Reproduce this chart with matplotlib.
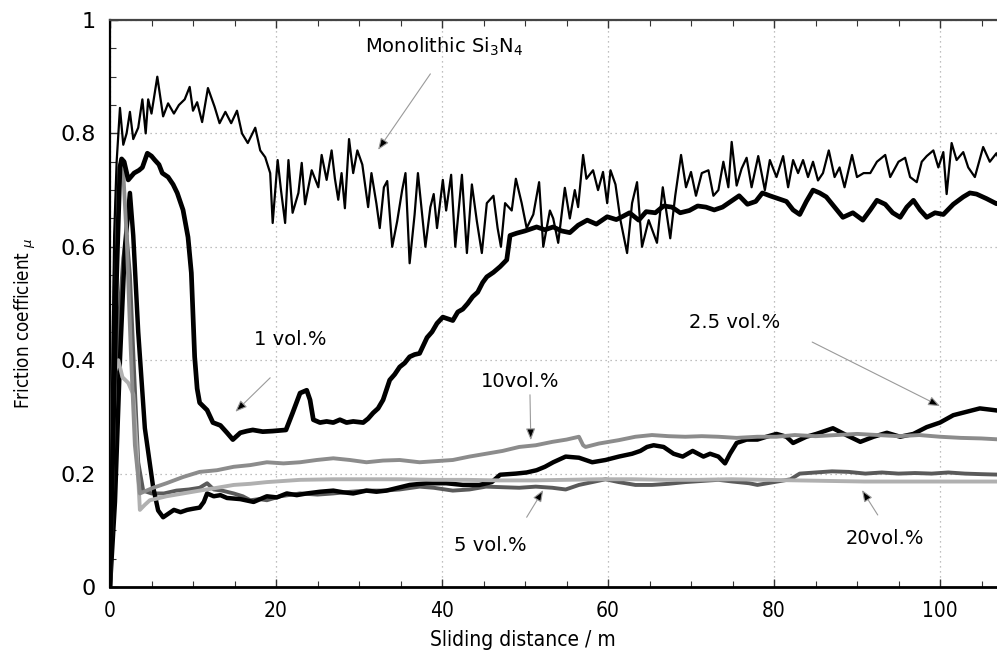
import numpy as np
import matplotlib
matplotlib.use('Agg')
import matplotlib.pyplot as plt
from matplotlib.ticker import MultipleLocator
from matplotlib import font_manager

# Monolithic Si3N4 (thin, noisy)
x_mono = [0.0, 0.2, 0.5, 0.8, 1.2, 1.6, 2.0, 2.4, 2.8, 3.4, 3.9, 4.3, 4.6, 5.0, 5.7, 6.4, 7.0, 7.7, 8.3,
          9.0, 9.6, 10.0, 10.5, 11.1, 11.8, 12.6, 13.2, 13.9, 14.6, 15.3, 15.9, 16.6, 17.5, 18.1, 18.7,
          19.3, 19.6, 20.2, 20.6, 21.1, 21.5, 22.0, 22.7, 23.1, 23.5, 24.3, 25.1, 25.5, 26.1, 26.7, 27.1,
          27.5, 27.9, 28.3, 28.8, 29.3, 29.8, 30.4, 31.1, 31.5, 32.1, 32.5, 33.0, 33.4, 34.0, 34.6, 35.2,
          35.6, 36.1, 36.7, 37.1, 38.0, 38.6, 39.0, 39.4, 40.1, 40.5, 41.1, 41.6, 42.4, 43.0, 43.6, 44.2,
          44.8, 45.4, 46.2, 46.7, 47.1, 47.6, 48.4, 48.9, 49.6, 50.2, 51.0, 51.7, 52.2, 53.0, 53.4, 54.0,
          54.8, 55.4, 56.0, 56.4, 57.0, 57.4, 58.2, 58.8, 59.4, 59.9, 60.3, 60.9, 61.5, 62.3, 62.9, 63.5,
          64.1, 64.9, 65.9, 66.6, 67.5, 68.1, 68.8, 69.4, 70.0, 70.6, 71.3, 72.1, 72.7, 73.3, 73.9, 74.5,
          74.9, 75.5, 76.1, 76.7, 77.3, 78.1, 78.9, 79.5, 80.3, 81.1, 81.7, 82.3, 82.9, 83.5, 84.1, 84.7,
          85.3, 85.9, 86.6, 87.3, 87.9, 88.5, 89.4, 90.0, 90.8, 91.6, 92.4, 93.4, 94.0, 95.0, 95.8, 96.4,
          97.2, 97.8, 98.4, 99.2, 99.8, 100.4, 100.8, 101.4, 102.0, 102.8, 103.4, 104.2, 105.2, 106.0,
          106.8, 107.5]
y_mono = [0.0, 0.30, 0.62, 0.75, 0.845, 0.78, 0.80, 0.838, 0.79, 0.81, 0.86, 0.80, 0.86, 0.835, 0.90, 0.83,
          0.853, 0.835, 0.85, 0.86, 0.882, 0.84, 0.855, 0.82, 0.88, 0.847, 0.818, 0.838, 0.818, 0.84,
          0.80, 0.783, 0.81, 0.77, 0.758, 0.73, 0.642, 0.753, 0.70, 0.642, 0.753, 0.66, 0.695, 0.748,
          0.675, 0.735, 0.705, 0.762, 0.718, 0.77, 0.72, 0.683, 0.73, 0.668, 0.79, 0.73, 0.77, 0.745,
          0.67, 0.73, 0.676, 0.633, 0.705, 0.716, 0.60, 0.645, 0.70, 0.73, 0.571, 0.657, 0.73, 0.60,
          0.67, 0.693, 0.633, 0.718, 0.664, 0.727, 0.60, 0.727, 0.589, 0.71, 0.645, 0.589, 0.677, 0.69,
          0.633, 0.60, 0.677, 0.664, 0.72, 0.677, 0.633, 0.657, 0.714, 0.60, 0.664, 0.65, 0.607, 0.704,
          0.65, 0.70, 0.67, 0.762, 0.72, 0.735, 0.70, 0.732, 0.677, 0.735, 0.71, 0.647, 0.589, 0.677,
          0.714, 0.60, 0.647, 0.607, 0.705, 0.615, 0.69, 0.762, 0.705, 0.732, 0.69, 0.73, 0.735, 0.69,
          0.70, 0.75, 0.705, 0.785, 0.708, 0.738, 0.757, 0.705, 0.76, 0.70, 0.753, 0.723, 0.76, 0.705,
          0.753, 0.73, 0.753, 0.723, 0.75, 0.717, 0.73, 0.77, 0.723, 0.74, 0.705, 0.762, 0.723, 0.73,
          0.73, 0.75, 0.762, 0.723, 0.75, 0.757, 0.723, 0.714, 0.75, 0.76, 0.77, 0.74, 0.767, 0.693,
          0.783, 0.753, 0.767, 0.74, 0.723, 0.776, 0.75, 0.765, 0.74]

# 1 vol.%
x_1 = [0.0, 0.8, 1.2, 1.4, 1.7, 2.2, 2.9, 3.5, 3.9, 4.5, 5.0, 5.4, 5.9, 6.3, 7.0, 7.6, 8.1, 8.8, 9.4, 9.8,
       10.0, 10.2, 10.5, 10.8, 11.7, 12.4, 13.3, 14.1, 14.8, 15.7, 16.5, 17.2, 18.4, 19.6, 20.4, 21.2,
       22.0, 22.9, 23.7, 24.1, 24.5, 25.3, 26.1, 26.9, 27.7, 28.5, 29.3, 30.5, 31.1, 31.7, 32.3, 32.9,
       33.7, 34.3, 34.9, 35.5, 36.1, 36.7, 37.3, 38.2, 38.8, 39.4, 40.1, 41.3, 41.9, 42.5, 43.1, 43.7,
       44.3, 44.9, 45.4, 46.2, 47.0, 47.8, 48.2, 49.0, 50.0, 51.4, 52.4, 53.4, 54.4, 55.4, 56.4, 57.5,
       58.6, 59.9, 61.0, 61.7, 62.6, 63.7, 64.6, 65.7, 66.7, 67.7, 68.7, 69.8, 70.8, 71.8, 72.8, 73.8,
       74.8, 75.8, 76.8, 77.8, 78.6, 79.5, 80.5, 81.5, 82.3, 83.1, 83.9, 84.7, 85.5, 86.3, 87.3, 88.3,
       89.5, 90.7, 91.6, 92.4, 93.4, 94.3, 95.2, 96.0, 96.8, 97.6, 98.4, 99.4, 100.4, 101.6, 102.8,
       103.6, 104.4, 105.6, 106.8, 107.5]
y_1 = [0.0, 0.55, 0.74, 0.755, 0.75, 0.718, 0.73, 0.735, 0.74, 0.765, 0.76, 0.753, 0.745, 0.73, 0.723,
       0.71, 0.695, 0.665, 0.617, 0.554, 0.48, 0.406, 0.35, 0.325, 0.312, 0.29, 0.285, 0.272, 0.26,
       0.272, 0.275, 0.277, 0.274, 0.275, 0.276, 0.277, 0.307, 0.342, 0.347, 0.33, 0.295, 0.29, 0.292,
       0.29, 0.295, 0.29, 0.292, 0.29, 0.297, 0.307, 0.315, 0.33, 0.365, 0.375, 0.388, 0.395, 0.406,
       0.41, 0.412, 0.44, 0.45, 0.465, 0.476, 0.47, 0.485, 0.49, 0.50, 0.512, 0.52, 0.537, 0.547,
       0.555, 0.565, 0.577, 0.62, 0.624, 0.628, 0.635, 0.63, 0.635, 0.628, 0.625, 0.638, 0.647, 0.64,
       0.653, 0.648, 0.653, 0.66, 0.647, 0.662, 0.66, 0.672, 0.67, 0.66, 0.664, 0.672, 0.67, 0.665,
       0.67, 0.68, 0.69, 0.675, 0.68, 0.695, 0.69, 0.685, 0.68, 0.665, 0.657, 0.68, 0.70, 0.695, 0.688,
       0.67, 0.652, 0.66, 0.647, 0.665, 0.682, 0.675, 0.66, 0.652, 0.67, 0.682, 0.665, 0.652, 0.66,
       0.657, 0.675, 0.688, 0.695, 0.693, 0.685, 0.676, 0.68]

# 2.5 vol.%
x_25 = [0.0, 0.6, 1.2, 1.8, 2.4, 2.8, 3.4, 4.2, 5.2, 5.8, 6.4, 7.1, 7.7, 8.5, 9.3, 10.0, 10.8, 11.3, 11.7,
        12.5, 13.3, 14.1, 15.7, 17.3, 18.1, 18.9, 20.1, 21.3, 22.5, 23.7, 25.3, 26.9, 28.1, 29.3, 30.9,
        32.1, 33.3, 34.7, 36.1, 38.1, 40.5, 42.5, 44.5, 46.0, 47.0, 48.9, 50.2, 51.4, 52.4, 53.4, 54.9,
        56.5, 58.1, 59.7, 61.3, 62.9, 63.9, 64.7, 65.5, 66.7, 67.9, 69.0, 70.2, 71.5, 72.3, 73.3, 74.1,
        74.7, 75.5, 76.7, 78.0, 79.1, 80.3, 81.5, 82.3, 83.9, 85.1, 87.1, 88.7, 90.4, 92.0, 93.6, 95.2,
        96.8, 98.4, 100.0, 101.6, 103.2, 104.8, 106.5, 107.5]
y_25 = [0.0, 0.15, 0.40, 0.60, 0.695, 0.62, 0.45, 0.28, 0.176, 0.135, 0.123, 0.13, 0.136, 0.132, 0.136,
        0.138, 0.14, 0.15, 0.165, 0.16, 0.162, 0.157, 0.155, 0.15, 0.155, 0.16, 0.158, 0.165, 0.162,
        0.165, 0.168, 0.17, 0.167, 0.165, 0.17, 0.168, 0.17, 0.175, 0.18, 0.183, 0.183, 0.18, 0.18,
        0.185, 0.198, 0.2, 0.202, 0.206, 0.212, 0.22, 0.23, 0.228, 0.22, 0.224, 0.23, 0.235, 0.24,
        0.247, 0.25, 0.247, 0.235, 0.23, 0.24, 0.23, 0.235, 0.23, 0.218, 0.235, 0.254, 0.26, 0.26,
        0.265, 0.27, 0.265, 0.254, 0.265, 0.27, 0.28, 0.268, 0.256, 0.265, 0.272, 0.265, 0.27, 0.282,
        0.29, 0.303, 0.309, 0.315, 0.312, 0.31]

# 5 vol.%
x_5 = [0.0, 0.5, 1.0, 1.6, 2.0, 2.4, 2.9, 3.4, 4.0, 5.0, 6.5, 8.0, 9.5, 10.8, 11.7, 12.5, 13.5, 14.9, 16.0,
       16.9, 18.0, 18.9, 20.5, 22.9, 25.0, 26.9, 29.0, 30.9, 33.0, 34.9, 37.3, 39.0, 41.3, 43.3, 45.3,
       47.3, 49.3, 51.3, 53.3, 54.9, 56.5, 58.1, 59.7, 61.3, 63.3, 65.3, 67.3, 69.3, 71.3, 73.3, 75.0,
       77.0, 78.0, 80.0, 82.0, 83.1, 85.0, 87.0, 89.0, 91.0, 93.0, 95.0, 97.0, 99.0, 101.0, 103.0,
       105.0, 107.5]
y_5 = [0.0, 0.25, 0.45, 0.58, 0.62, 0.55, 0.38, 0.22, 0.17, 0.165, 0.165, 0.17, 0.172, 0.175, 0.183,
       0.172, 0.17, 0.165, 0.16, 0.153, 0.155, 0.153, 0.16, 0.165, 0.163, 0.165, 0.168, 0.17, 0.17,
       0.172, 0.177, 0.175, 0.17, 0.172, 0.177, 0.176, 0.175, 0.177, 0.175, 0.172, 0.18, 0.185, 0.19,
       0.185, 0.18, 0.18, 0.182, 0.185, 0.187, 0.189, 0.186, 0.183, 0.18, 0.185, 0.19, 0.2, 0.202,
       0.204, 0.203, 0.2, 0.202, 0.2, 0.201, 0.2, 0.202, 0.2, 0.199, 0.198]

# 10 vol.%
x_10 = [0.0, 0.4, 0.8, 1.2, 1.6, 2.0, 2.5, 3.0, 3.6, 4.4, 5.2, 6.8, 8.8, 10.8, 12.9, 14.9, 16.9, 18.9,
        20.9, 22.9, 24.9, 26.9, 28.9, 30.9, 32.9, 34.9, 37.3, 39.3, 41.3, 43.3, 45.3, 47.3, 49.3, 51.3,
        53.3, 55.0, 56.5, 57.0, 57.3, 58.9, 61.3, 63.3, 65.3, 67.3, 69.3, 71.3, 73.3, 75.5, 78.0, 80.3,
        82.5, 85.0, 87.5, 90.0, 92.5, 95.0, 97.5, 100.0, 102.5, 105.0, 107.5]
y_10 = [0.0, 0.45, 0.68, 0.745, 0.73, 0.62, 0.42, 0.25, 0.165, 0.17, 0.175, 0.183, 0.194, 0.203, 0.206,
        0.212, 0.215, 0.22, 0.218, 0.22, 0.224, 0.227, 0.224, 0.22, 0.223, 0.224, 0.22, 0.222, 0.224,
        0.23, 0.235, 0.24, 0.247, 0.25, 0.256, 0.26, 0.265, 0.25, 0.247, 0.253, 0.259, 0.265, 0.268,
        0.266, 0.265, 0.266, 0.265, 0.263, 0.265, 0.265, 0.268, 0.266, 0.268, 0.27, 0.268, 0.266,
        0.268, 0.265, 0.263, 0.262, 0.26]

# 20 vol.%
x_20 = [0.0, 0.3, 0.6, 1.0, 1.5, 2.2, 2.8, 3.2, 3.6, 4.2, 4.8, 6.8, 8.8, 10.8, 12.9, 14.9, 16.9, 18.9,
        20.9, 22.9, 26.9, 30.9, 34.9, 38.9, 42.9, 46.9, 50.9, 54.9, 58.9, 62.9, 66.9, 70.9, 74.9, 78.9,
        82.9, 86.9, 90.9, 94.9, 98.9, 102.9, 107.5]
y_20 = [0.0, 0.2, 0.38, 0.4, 0.37, 0.36, 0.34, 0.25, 0.136, 0.145, 0.153, 0.16, 0.165, 0.17, 0.175,
        0.18, 0.182, 0.185, 0.187, 0.189, 0.19, 0.19, 0.19, 0.189, 0.189, 0.188, 0.188, 0.189, 0.19,
        0.19, 0.189, 0.189, 0.19, 0.189, 0.188, 0.187, 0.186, 0.186, 0.186, 0.186, 0.186]

cond = font_manager.FontProperties(family='DejaVu Sans', stretch='condensed', size=15)
cond_y = font_manager.FontProperties(family='DejaVu Sans', stretch='condensed', size=13.5)

fig = plt.figure(figsize=(9.97, 6.55), dpi=100)
ax = fig.add_axes([110 / 997, 68 / 655, 996 / 997, 567 / 655])

ax.plot(x_5, y_5, color='#5a5a5a', lw=2.8, zorder=3)
ax.plot(x_25, y_25, color='black', lw=3.2, zorder=4)
ax.plot(x_20, y_20, color='#b0b0b0', lw=2.8, zorder=5)
ax.plot(x_10, y_10, color='#8c8c8c', lw=2.8, zorder=5)
ax.plot(x_1, y_1, color='black', lw=3.4, zorder=6)
ax.plot(x_mono, y_mono, color='black', lw=1.6, zorder=7)

ax.set_xlim(0, 120)
ax.set_ylim(0, 1)
ax.xaxis.set_minor_locator(MultipleLocator(5))
ax.yaxis.set_minor_locator(MultipleLocator(0.05))
ax.set_yticks([0, 0.2, 0.4, 0.6, 0.8, 1.0])
ax.set_yticklabels(['0', '0.2', '0.4', '0.6', '0.8', '1'], fontsize=16)
ax.set_xticks([0, 20, 40, 60, 80, 100])
ax.set_xticklabels(['0', '20', '40', '60', '80', '100'], fontproperties=cond)
ax.tick_params(which='both', direction='in', top=True, right=False, colors='#333333')
ax.tick_params(which='major', length=6, width=1, pad=10)
ax.tick_params(which='minor', length=4, width=0.8)
ax.tick_params(axis='both', labelcolor='black')

ax.grid(True, which='major', color='#aaaaaa', linestyle=(0, (1, 3)), lw=0.9)
ax.spines['right'].set_visible(False)
ax.spines['left'].set_linewidth(1.6)
ax.spines['bottom'].set_linewidth(2.0)
ax.spines['top'].set_linewidth(1.6)
ax.spines['top'].set_color('#444444')

ax.set_xlabel('Sliding distance / m', fontproperties=cond)
ax.xaxis.set_label_coords(413 / 996, -0.075)
ax.set_ylabel(r'Friction coefficient $_{\mu}$', fontproperties=cond_y)
ax.yaxis.set_label_coords(-72 / 996, 0.465)

arrow = dict(arrowstyle='-|>,head_length=0.7,head_width=0.28', facecolor='black',
             edgecolor='#9a9a9a', lw=0.8, shrinkA=0, shrinkB=0)
notes = [
    (r'Monolithic Si$_3$N$_4$', (30.7, 0.952), (38.6, 0.905), (32.3, 0.771), 'left'),
    ('1 vol.%', (21.7, 0.436), (19.3, 0.369), (15.1, 0.309), 'center'),
    ('10vol.%', (49.4, 0.362), (50.6, 0.339), (50.7, 0.259), 'center'),
    ('5 vol.%', (45.8, 0.074), (50.2, 0.123), (52.2, 0.171), 'center'),
    ('2.5 vol.%', (75.3, 0.467), (84.6, 0.432), (100.0, 0.319), 'center'),
    ('20vol.%', (93.4, 0.086), (92.5, 0.127), (90.6, 0.171), 'center'),
]
for label, tpos, a0, a1, ha in notes:
    ax.text(tpos[0], tpos[1], label, fontsize=14, ha=ha, va='center', zorder=9)
    ax.annotate('', xy=a1, xytext=a0, arrowprops=arrow, zorder=9)

plt.savefig('out.png', dpi=100)
